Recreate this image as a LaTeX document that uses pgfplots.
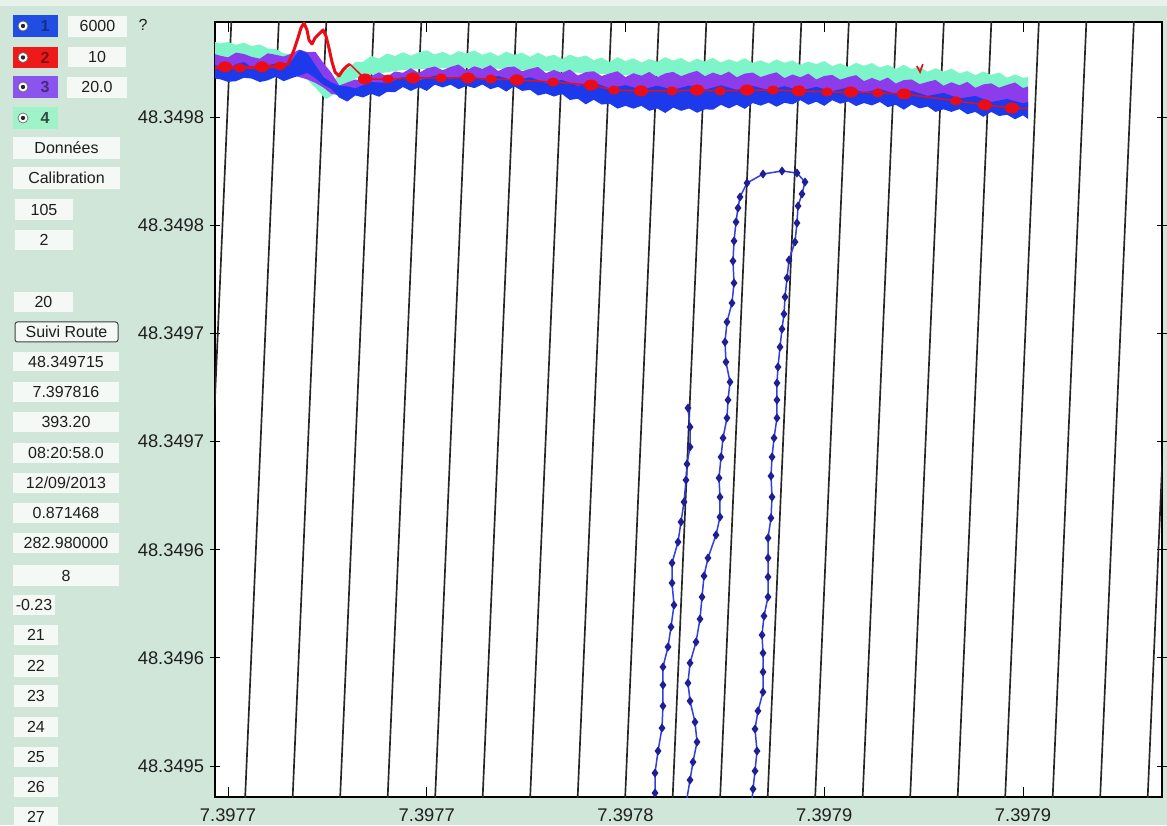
\documentclass[border=0pt]{standalone}
\usepackage{pgfplots}
\pgfplotsset{compat=1.18}
\usepackage{fontspec}
\setmainfont{Liberation Sans}
\definecolor{bgc}{RGB}{208,230,216}
\definecolor{topc}{RGB}{230,242,234}
\definecolor{boxc}{RGB}{244,249,245}
\definecolor{txtc}{RGB}{30,30,30}
\definecolor{rblue}{RGB}{32,78,226}
\definecolor{rred}{RGB}{238,26,26}
\definecolor{rpurp}{RGB}{140,84,238}
\definecolor{rgreen}{RGB}{160,243,200}
\definecolor{sgreen}{RGB}{125,245,200}
\definecolor{spurp}{RGB}{140,60,235}
\definecolor{sblue}{RGB}{28,58,236}
\definecolor{sred}{RGB}{236,12,22}
\definecolor{trackc}{RGB}{50,62,222}
\definecolor{markc}{RGB}{30,30,150}
\newcommand{\ptext}{\fontsize{9.6}{11}\selectfont}
\newcommand{\pbox}[5]{\fill[boxc] (#1,#2) rectangle (#3,#4); \node[font=\ptext, text=txtc, inner sep=0pt] at ({(#1+#3)/2},{(#2+#4)/2}) {#5};}
\newcommand{\rbox}[5]{\fill[#3] (13,#1) rectangle (58,#2);
 \fill[white] (23,{(#1+#2)/2}) circle (3pt);
 \draw[black!60, line width=0.4pt] (23,{(#1+#2)/2}) circle (3pt);
 \fill[black!85] (23,{(#1+#2)/2}) circle (1.3pt);
 \node[font=\ptext\bfseries, text=#4, inner sep=0pt] at (45,{(#1+#2)/2}) {#5};}
\begin{document}
\begin{tikzpicture}
\fill[bgc] (0,0) rectangle (700.2pt,495pt);
\useasboundingbox (0,0) rectangle (700.2pt,495pt);
\begin{scope}[shift={(0pt,495pt)}, x=0.6pt, y=-0.6pt]
\fill[topc] (0,0) rectangle (1167,6);
\rbox{15}{37}{rblue}{rblue!60!black}{1}
\rbox{47}{68}{rred}{rred!55!black}{2}
\rbox{76}{98}{rpurp}{rpurp!50!black}{3}
\rbox{107}{129}{rgreen}{rgreen!30!black}{4}
\pbox{68}{16}{127}{37}{6000}
\pbox{68}{47}{126}{67}{10}
\pbox{67}{77}{127}{98}{20.0}
\node[font=\ptext, text=txtc] at (143,25) {?};
\pbox{13}{137}{120}{159}{Données}
\pbox{13}{167}{120}{189}{Calibration}
\pbox{15}{199}{73}{220}{105}
\pbox{15}{230}{73}{250}{2}
\pbox{14}{292}{73}{312}{20}
\draw[black!75, fill=boxc, rounded corners=1.5pt, line width=0.6pt] (15,322) rectangle (118,342);
\node[font=\ptext, text=txtc, inner sep=0pt] at (66.5,332) {Suivi Route};
\pbox{13}{352}{119}{371}{48.349715}
\pbox{13}{382}{119}{402}{7.397816}
\pbox{13}{412}{119}{432}{393.20}
\pbox{13}{443}{119}{463}{08:20:58.0}
\pbox{13}{473}{119}{493}{12/09/2013}
\pbox{13}{503}{119}{523}{0.871468}
\pbox{13}{533}{119}{553}{282.980000}
\pbox{13}{565}{119}{586}{8}
\pbox{13}{595}{55}{615}{-0.23}
\pbox{14}{625}{58}{645}{21}
\pbox{14}{655}{58}{677}{22}
\pbox{14}{685}{58}{707}{23}
\pbox{14}{717}{58}{737}{24}
\pbox{14}{747}{58}{767}{25}
\pbox{14}{777}{58}{797}{26}
\pbox{14}{807}{58}{827}{27}
\end{scope}
\begin{axis}[
 at={(129pt,16.8pt)}, anchor=south west,
 scale only axis, width=568.2pt, height=465pt,
 xmin=-0.327, xmax=23.497, ymin=-1.433, ymax=34.397,
 axis background/.style={fill=white},
 axis line style={black, line width=0.7pt},
 xtick={0,5,10,15,20}, xticklabels={7.3977,7.3977,7.3978,7.3979,7.3979},
 ytick={0,5,10,15,20,25,30},
 yticklabels={48.3495,48.3496,48.3496,48.3497,48.3497,48.3498,48.3498},
 tick label style={font=\fontsize{11}{13}\selectfont, text=black!88},
 xticklabel style={yshift=-3.5pt},
 major tick length=6pt,
 xtick align=inside, ytick align=center,
 tick style={black, line width=0.6pt},
]
% black staircase lines
\addplot[black!85, line width=1pt] coordinates {(-0.767,-1.6) (0.088,34.6)};
\addplot[black!85, line width=1pt] coordinates {(0.428,-1.6) (1.283,34.6)};
\addplot[black!85, line width=1pt] coordinates {(1.623,-1.6) (2.478,34.6)};
\addplot[black!85, line width=1pt] coordinates {(2.818,-1.6) (3.673,34.6)};
\addplot[black!85, line width=1pt] coordinates {(4.013,-1.6) (4.868,34.6)};
\addplot[black!85, line width=1pt] coordinates {(5.208,-1.6) (6.063,34.6)};
\addplot[black!85, line width=1pt] coordinates {(6.403,-1.6) (7.258,34.6)};
\addplot[black!85, line width=1pt] coordinates {(7.598,-1.6) (8.453,34.6)};
\addplot[black!85, line width=1pt] coordinates {(8.793,-1.6) (9.648,34.6)};
\addplot[black!85, line width=1pt] coordinates {(9.988,-1.6) (10.843,34.6)};
\addplot[black!85, line width=1pt] coordinates {(11.183,-1.6) (12.038,34.6)};
\addplot[black!85, line width=1pt] coordinates {(12.378,-1.6) (13.233,34.6)};
\addplot[black!85, line width=1pt] coordinates {(13.573,-1.6) (14.428,34.6)};
\addplot[black!85, line width=1pt] coordinates {(14.768,-1.6) (15.623,34.6)};
\addplot[black!85, line width=1pt] coordinates {(15.963,-1.6) (16.818,34.6)};
\addplot[black!85, line width=1pt] coordinates {(17.158,-1.6) (18.013,34.6)};
\addplot[black!85, line width=1pt] coordinates {(18.353,-1.6) (19.208,34.6)};
\addplot[black!85, line width=1pt] coordinates {(19.548,-1.6) (20.403,34.6)};
\addplot[black!85, line width=1pt] coordinates {(20.743,-1.6) (21.598,34.6)};
\addplot[black!85, line width=1pt] coordinates {(21.938,-1.6) (22.793,34.6)};
\addplot[black!85, line width=1pt] coordinates {(23.133,-1.6) (23.988,34.6)};
% series 4 (green)
\addplot[fill=sgreen, draw=none] coordinates {
(-0.4,33.52) (-0.2,33.40) (0.0,33.47) (0.2,33.34) (0.4,33.44) (0.6,33.28) (0.8,33.36) (1.0,33.17) (1.2,33.15) (1.4,32.95) (1.6,32.90) (1.8,32.62) (2.0,32.47) (2.2,32.12) (2.4,31.62) (2.47,31.35) (2.6,31.48) (2.8,32.08) (3.0,32.22)
(3.2,32.54) (3.4,32.56) (3.6,32.83) (3.8,32.70) (4.0,32.94) (4.2,32.82) (4.4,33.00) (4.6,32.84) (4.8,32.99) (5.0,33.09) (5.2,32.89) (5.4,33.02) (5.6,32.85) (5.8,33.05) (6.0,32.94) (6.2,33.08) (6.4,32.88) (6.6,33.00) (6.8,32.82) (7.0,33.03) (7.2,32.88) (7.4,32.98) (7.6,32.78) (7.8,32.98) (8.0,32.79) (8.2,32.88) (8.4,32.69) (8.6,32.89) (8.8,32.75) (9.0,32.85) (9.2,32.63) (9.4,32.75) (9.6,32.55) (9.8,32.77) (10.0,32.59) (10.2,32.72) (10.4,32.52) (10.6,32.68) (10.8,32.56) (11.0,32.77) (11.2,32.61) (11.4,32.73) (11.6,32.53) (11.8,32.70) (12.0,32.57) (12.2,32.74) (12.4,32.52) (12.6,32.67) (12.8,32.55) (13.0,32.72) (13.2,32.51) (13.4,32.63) (13.6,32.47) (13.8,32.67) (14.0,32.51) (14.2,32.62) (14.4,32.41) (14.6,32.57) (14.8,32.45) (15.0,32.59) (15.2,32.36) (15.4,32.49) (15.6,32.31) (15.8,32.51) (16.0,32.37) (16.2,32.50) (16.4,32.29) (16.6,32.41) (16.8,32.22) (17.0,32.42) (17.2,32.22) (17.4,32.33) (17.6,32.10) (17.8,32.26) (18.0,32.10) (18.2,32.24) (18.4,32.02) (18.6,32.13) (18.8,31.94) (19.0,32.11) (19.2,31.95) (19.4,32.06) (19.6,31.82) (19.8,31.97) (20.0,31.82) (20.13,31.85)
(20.13,31.16) (19.2,31.30) (18.4,31.37) (17.6,31.48) (16.8,31.56) (16.0,31.65) (15.2,31.70) (14.4,31.76) (13.6,31.81) (12.8,31.83) (12.0,31.86) (11.2,31.88) (10.4,31.90) (9.6,31.97) (8.8,32.05) (8.0,32.13) (7.2,32.20) (6.4,32.27) (5.6,32.27) (4.8,32.22) (4.4,32.18) (4.0,32.07) (3.6,31.97) (3.2,31.78) (3.0,31.55) (2.8,31.21) (2.6,30.98) (2.47,30.84) (2.4,30.95) (2.2,31.36) (2.0,31.72) (1.6,32.20) (1.2,32.50) (0.8,32.64) (0.0,32.68) (-0.4,32.73)};
% series 3 (purple)
\addplot[fill=spurp, draw=none] coordinates {
(-0.4,32.95) (-0.2,32.84) (0.0,32.76) (0.2,32.98) (0.4,32.92) (0.6,32.78) (0.8,32.70) (1.0,32.95) (1.2,32.88) (1.4,32.80) (1.6,32.94) (1.8,33.12) (2.0,33.00) (2.2,33.02) (2.4,32.50) (2.6,32.05) (2.8,31.46) (3.0,31.60)
(3.2,31.74) (3.4,31.66) (3.6,31.90) (3.8,32.07) (4.0,31.87) (4.2,32.11) (4.4,32.05) (4.6,32.26) (4.8,32.04) (5.0,32.25) (5.2,32.34) (5.4,32.17) (5.6,32.32) (5.8,32.43) (6.0,32.17) (6.2,32.35) (6.4,32.23) (6.6,32.40) (6.8,32.13) (7.0,32.30) (7.2,32.34) (7.4,32.12) (7.6,32.23) (7.8,32.32) (8.0,32.03) (8.2,32.18) (8.4,32.04) (8.6,32.20) (8.8,31.92) (9.0,32.08) (9.2,32.12) (9.4,31.90) (9.6,32.02) (9.8,32.12) (10.0,31.85) (10.2,32.03) (10.4,31.91) (10.6,32.09) (10.8,31.84) (11.0,32.02) (11.2,32.09) (11.4,31.89) (11.6,32.03) (11.8,32.14) (12.0,31.89) (12.2,32.06) (12.4,31.93) (12.6,32.10) (12.8,31.84) (13.0,32.01) (13.2,32.06) (13.4,31.85) (13.6,31.97) (13.8,32.07) (14.0,31.80) (14.2,31.97) (14.4,31.84) (14.6,32.01) (14.8,31.74) (15.0,31.90) (15.2,31.95) (15.4,31.73) (15.6,31.85) (15.8,31.94) (16.0,31.66) (16.2,31.81) (16.4,31.67) (16.6,31.83) (16.8,31.55) (17.0,31.71) (17.2,31.74) (17.4,31.52) (17.6,31.63) (17.8,31.72) (18.0,31.45) (18.2,31.61) (18.4,31.47) (18.6,31.63) (18.8,31.35) (19.0,31.51) (19.2,31.56) (19.4,31.36) (19.6,31.49) (19.8,31.60) (20.0,31.34) (20.13,31.42)
(20.13,30.42) (19.6,30.52) (19.2,30.51) (18.8,30.62) (18.4,30.70) (18.0,30.78) (17.6,30.84) (17.2,30.92) (16.8,30.98) (16.0,31.02) (15.2,31.07) (14.4,31.09) (13.6,31.14) (12.8,31.16) (12.0,31.16) (11.2,31.11) (10.4,31.09) (9.6,31.14) (8.8,31.32) (8.0,31.48) (7.2,31.58) (6.4,31.65) (5.6,31.72) (4.8,31.60) (4.4,31.53) (4.0,31.41) (3.6,31.25) (3.2,31.11) (3.0,31.07) (2.8,31.02) (2.6,31.07) (2.4,31.37) (2.2,31.58) (2.0,31.74) (1.6,31.95) (0.8,31.99) (0.0,31.99) (-0.4,31.99)};
% series 1 (blue)
\addplot[fill=sblue, draw=none] coordinates {
(-0.4,32.50) (-0.2,32.30) (0.0,32.20) (0.2,32.44) (0.4,32.55) (0.6,32.30) (0.8,32.18) (1.0,32.40) (1.2,32.48) (1.4,32.36) (1.6,32.60) (1.8,33.10) (2.0,32.95) (2.2,32.40) (2.4,31.85) (2.6,31.60) (2.8,31.45) (3.0,31.42) (3.2,31.33) (3.6,31.62) (4.0,31.58) (4.4,31.85) (4.8,31.70) (5.2,31.92) (5.6,31.76) (6.0,31.95) (6.4,31.73) (6.8,31.90) (7.2,31.68) (7.6,31.84) (8.0,31.58) (8.4,31.72) (8.8,31.45) (9.2,31.60) (9.6,31.33) (10.0,31.48) (10.4,31.27) (10.8,31.45) (11.2,31.26) (11.6,31.46) (12.0,31.27) (12.4,31.47) (12.8,31.26) (13.2,31.44) (13.6,31.25) (14.0,31.43) (14.4,31.23) (14.8,31.40) (15.2,31.20) (15.6,31.37) (16.0,31.14) (16.4,31.30) (16.8,31.07) (17.2,31.22) (17.6,30.98) (18.0,31.12) (18.4,30.86) (18.8,30.98) (19.2,30.70) (19.6,30.84) (20.0,30.64) (20.13,30.70)
(20.13,29.91) (20.0,30.08) (19.8,29.90) (19.6,30.11) (19.4,30.05) (19.2,30.24) (19.0,30.01) (18.8,30.24) (18.6,30.13) (18.4,30.37) (18.2,30.24) (18.0,30.36) (17.8,30.24) (17.6,30.49) (17.4,30.40) (17.2,30.58) (17.0,30.34) (16.8,30.57) (16.6,30.46) (16.4,30.70) (16.2,30.54) (16.0,30.65) (15.8,30.51) (15.6,30.72) (15.4,30.62) (15.2,30.78) (15.0,30.52) (14.8,30.71) (14.6,30.57) (14.4,30.78) (14.2,30.59) (14.0,30.66) (13.8,30.48) (13.6,30.67) (13.4,30.53) (13.2,30.65) (13.0,30.38) (12.8,30.57) (12.6,30.40) (12.4,30.57) (12.2,30.34) (12.0,30.36) (11.8,30.20) (11.6,30.40) (11.4,30.29) (11.2,30.44) (11.0,30.19) (10.8,30.40) (10.6,30.29) (10.4,30.52) (10.2,30.39) (10.0,30.52) (9.8,30.39) (9.6,30.62) (9.4,30.58) (9.2,30.80) (9.0,30.59) (8.8,30.85) (8.6,30.79) (8.4,31.07) (8.2,30.95) (8.0,31.09) (7.8,31.00) (7.6,31.26) (7.4,31.21) (7.2,31.42) (7.0,31.18) (6.8,31.40) (6.6,31.29) (6.4,31.51) (6.2,31.34) (6.0,31.44) (5.8,31.29) (5.6,31.50) (5.4,31.37) (5.2,31.50) (5.0,31.21) (4.8,31.38) (4.6,31.21) (4.4,31.39) (4.2,31.15) (4.0,31.17) (3.8,30.94) (3.6,31.08) (3.4,30.91) (3.2,31.00) (3.0,30.72) (2.8,30.90) (2.6,31.30) (2.4,31.50) (2.2,31.80) (2.0,32.05) (1.6,31.80) (1.4,31.66) (1.2,31.86) (1.0,31.70) (0.8,31.62) (0.6,31.78) (0.4,31.82) (0.2,31.66) (0.0,31.63) (-0.2,31.75) (-0.4,31.80)};
% series 2 (red)
\addplot[sred, line width=1.8pt, line join=round] coordinates {
(-0.33,32.28) (-0.075,32.32) (0.302,32.27) (0.855,32.32) (1.308,32.36) (1.509,32.45) (1.660,33.10) (1.761,33.66) (1.836,34.12) (1.912,34.35) (1.987,34.03) (2.038,33.56) (2.113,33.38) (2.189,33.66) (2.289,33.84) (2.390,34.03) (2.465,33.75) (2.541,33.19) (2.616,32.55) (2.692,32.09) (2.792,31.90) (2.893,32.18) (2.994,32.36) (3.069,32.45)};
\addplot[sred, line width=0.9pt, line join=round] coordinates {
(3.069,32.45) (3.447,31.76) (4.025,31.76) (4.654,31.81) (5.358,31.81) (6.038,31.81) (6.616,31.76) (7.270,31.72) (8.176,31.62) (9.132,31.48) (9.711,31.25) (10.39,31.21) (11.17,31.21) (11.80,31.25) (12.38,31.21) (13.06,31.25) (13.71,31.25) (14.36,31.21) (15.07,31.16) (15.67,31.16) (16.35,31.12) (17.01,31.07) (18.31,30.75) (19.04,30.56) (19.72,30.42) (20.13,30.40)};
\addplot[only marks, mark=*, mark size=3.1pt, sred, mark options={xscale=1.3}] coordinates {
(-0.075,32.32) (0.855,32.32) (3.447,31.76) (4.654,31.81) (6.038,31.81) (7.270,31.72) (9.132,31.48) (10.39,31.21) (11.80,31.25) (13.06,31.25) (14.36,31.21) (15.67,31.16) (17.01,31.07) (19.04,30.56) (19.72,30.42)};
\addplot[only marks, mark=*, mark size=2.5pt, sred, mark options={xscale=1.3}] coordinates {
(0.302,32.27) (1.308,32.36) (4.025,31.76) (5.358,31.81) (6.616,31.76) (8.176,31.62) (9.711,31.25) (11.17,31.21) (12.38,31.21) (13.71,31.25) (15.07,31.16) (16.35,31.12) (18.31,30.75)};
\addplot[sred, line width=1pt] coordinates {(17.33,32.36) (17.41,32.09) (17.48,32.45)};
% track
\addplot[trackc, line width=0.9pt, mark=diamond*, mark size=2pt, mark options={fill=markc, draw=markc}] coordinates {
(11.572,16.551) (11.623,15.673) (11.623,14.748) (11.547,13.962) (11.522,13.222) (11.472,12.205) (11.396,11.281) (11.321,10.356) (11.170,9.385) (11.170,8.460) (11.220,7.443) (11.145,6.426) (11.069,5.502) (10.943,4.577) (10.943,3.745) (10.943,2.774) (10.918,1.757) (10.818,0.693) (10.742,-0.324) (10.742,-1.248)};
\addplot[trackc, line width=0.9pt, mark=diamond*, mark size=2pt, mark options={fill=markc, draw=markc}] coordinates {
(11.547,-1.479) (11.623,-0.647) (11.698,0.185) (11.799,1.110) (11.748,2.034) (11.623,3.005) (11.572,3.837) (11.623,4.762) (11.774,5.733) (11.874,6.796) (11.925,7.813) (11.975,8.784) (12.075,9.616) (12.277,10.680) (12.377,11.512) (12.377,12.436) (12.352,13.315) (12.403,14.286) (12.453,15.164) (12.553,16.089) (12.579,16.921) (12.629,17.753) (12.528,18.678) (12.503,19.602) (12.553,20.527) (12.679,21.405) (12.730,22.330) (12.704,23.347) (12.730,24.272) (12.780,25.150) (12.830,25.798) (12.881,26.306) (13.057,26.953) (13.459,27.369) (13.937,27.508) (14.314,27.416) (14.516,27.000)
(14.440,26.445) (14.340,25.890) (14.314,25.104) (14.264,24.226) (14.113,23.393) (14.063,22.561) (14.013,21.683) (13.987,20.897) (13.937,20.203) (13.887,19.371) (13.836,18.447) (13.811,17.707) (13.811,16.921) (13.811,16.089) (13.736,15.164) (13.686,14.286) (13.660,13.407) (13.686,12.436) (13.660,11.466) (13.585,10.541) (13.585,9.616) (13.585,8.738) (13.585,7.813) (13.484,6.935) (13.434,6.056) (13.459,5.224) (13.459,4.346) (13.459,3.421) (13.333,2.543) (13.258,1.711) (13.308,0.693) (13.258,-0.231) (13.208,-1.063) (13.182,-1.572)};
\end{axis}
\end{tikzpicture}
\end{document}
